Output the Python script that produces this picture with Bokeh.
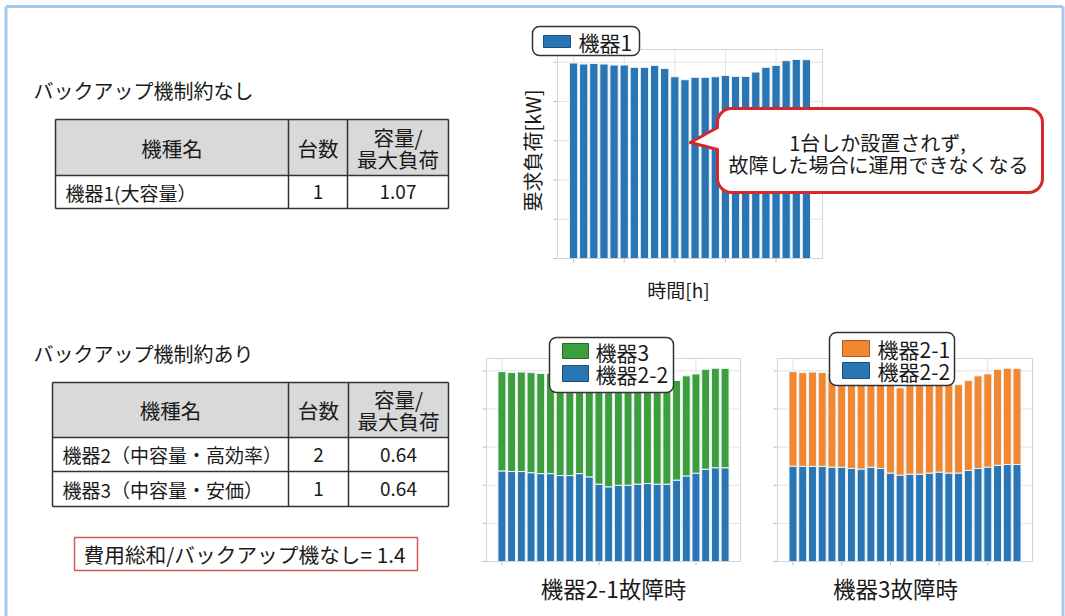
from math import pi
from bokeh.plotting import figure
from bokeh.models import Range1d
from bokeh.core.properties import value
from bokeh.embed import file_html
from bokeh.resources import INLINE

# ---------------- data ----------------
hours = list(range(24))
load_kw = [99.6, 99.1, 99.4, 99.1, 98.6, 98.6, 97.4, 97.4, 98.4, 96.8, 92.6, 91.1,
           92.3, 92.3, 92.6, 93.3, 92.8, 92.8, 95.0, 97.4, 98.4, 100.8, 101.4, 101.3]
unit22_when_21_fails = [47.5, 47.2, 47.2, 46.6, 46.1, 46.1, 45.1, 45.1, 46.1, 44.4, 40.6, 39.2,
                        40.0, 40.0, 40.6, 40.9, 40.6, 40.6, 42.7, 44.9, 46.3, 48.4, 49.2, 49.2]
unit22_when_3_fails = [50.0, 49.9, 49.9, 49.9, 49.5, 49.5, 48.8, 48.5, 49.5, 48.8, 46.4, 45.3,
                       45.8, 45.8, 46.4, 46.9, 46.4, 46.4, 47.8, 48.8, 49.5, 50.5, 50.9, 50.9]
y_ticks = [0, 20, 40, 60, 80, 100]
top_x_ticks = [0, 5, 10, 15, 20]
bl_x_ticks = [0, 10, 20]
br_x_ticks = [0, 5, 10, 15, 20]

table_header = ["機種名", "台数", "容量/", "最大負荷"]
table1_rows = [["機器1(大容量）", "1", "1.07"]]
table2_rows = [["機器2（中容量・高効率）", "2", "0.64"],
               ["機器3（中容量・安価）", "1", "0.64"]]
title_no_backup = "バックアップ機制約なし"
title_backup = "バックアップ機制約あり"
cost_text = "費用総和/バックアップ機なし= 1.4"
callout_lines = ["1台しか設置されず,", "故障した場合に運用できなくなる"]

BLUE = "#2a76b4"
GREEN = "#3d9e3d"
ORANGE = "#f2872f"
FONT = "Noto Sans CJK JP"
TXT = "#1a1a1a"

W, H = 1065, 616
p = figure(width=W, height=H, x_range=Range1d(0, W), y_range=Range1d(H, 0),
           output_backend="svg", toolbar_location=None, min_border=0,
           x_axis_location=None, y_axis_location=None)
p.grid.visible = False
p.outline_line_color = None
p.background_fill_color = "white"
p.border_fill_color = "white"


def txt(x, y, s, size="20px", align="left", angle=0.0, color=TXT):
    p.text(x=[x], y=[y], text=[s], text_font=value(FONT), text_font_size=value(size),
           text_align=align, text_baseline="middle", text_color=color, angle=angle)


# page border
p.segment(x0=[5.5, 5.5, 1062.5], y0=[6, 6, 6], x1=[5.5, 1062.5, 1062.5], y1=[616, 6, 616],
          line_color="#a6c8ec", line_width=3)

# ---------------- charts ----------------
X_LO, X_HI, Y_HI = -1.59, 24.59, 106.5


def chart(name, px0, px1, py_top, py_bot, xticks, stacks):
    sx = (X_HI - X_LO) / (px1 - px0)
    sy = Y_HI / (py_bot - py_top)
    p.extra_x_ranges[name + "x"] = Range1d(X_LO - px0 * sx, X_LO + (W - px0) * sx)
    p.extra_y_ranges[name + "y"] = Range1d(-(H - py_bot) * sy, Y_HI + py_top * sy)
    kw = dict(x_range_name=name + "x", y_range_name=name + "y")
    p.quad(left=[X_LO], right=[X_HI], bottom=[0], top=[Y_HI], fill_color="white",
           line_color=None, **kw)
    n = len(y_ticks)
    p.segment(x0=[X_LO] * n, x1=[X_HI] * n, y0=y_ticks, y1=y_ticks,
              line_color="#e3e3e3", line_width=1, **kw)
    m = len(xticks)
    p.segment(x0=xticks, x1=xticks, y0=[0] * m, y1=[Y_HI] * m,
              line_color="#e3e3e3", line_width=1, **kw)
    # tick marks
    p.segment(x0=xticks, x1=xticks, y0=[py_bot] * m, y1=[py_bot + 4] * m,
              line_color="#bbbbbb", x_range_name=name + "x")
    p.segment(x0=[px0 - 4] * n, x1=[px0] * n, y0=y_ticks, y1=y_ticks,
              line_color="#bbbbbb", y_range_name=name + "y")
    for bottom, top, color in stacks:
        p.vbar(x=hours, width=0.82, bottom=bottom, top=top, fill_color=color,
               line_color="#eef4fa", line_width=1, **kw)
    p.quad(left=[X_LO], right=[X_HI], bottom=[0], top=[Y_HI], fill_color=None,
           line_color="#d4d4d4", line_width=1, **kw)


chart("top", 557, 822, 49, 258, top_x_ticks, [(0, load_kw, BLUE)])
chart("bl", 486, 740, 358, 561, bl_x_ticks,
      [(0, unit22_when_21_fails, BLUE), (unit22_when_21_fails, load_kw, GREEN)])
chart("br", 777, 1032, 358, 561, br_x_ticks,
      [(0, unit22_when_3_fails, BLUE), (unit22_when_3_fails, load_kw, ORANGE)])

# axis labels / captions
txt(532, 150, "要求負荷[kW]", size="20px", align="center", angle=pi / 2)
txt(678, 289, "時間[h]", size="19px", align="center")
txt(613, 587, "機器2-1故障時", size="22.5px", align="center")
txt(895, 587, "機器3故障時", size="22.5px", align="center")


# legends
def legend_box(l, r, t, b):
    p.quad(left=[l], right=[r], top=[t], bottom=[b], fill_color="white",
           line_color="#333333", line_width=1.5, border_radius=7)


def swatch(l, r, t, b, color, edge):
    p.quad(left=[l], right=[r], top=[t], bottom=[b], fill_color=color,
           line_color=edge, line_width=1)


legend_box(532, 639, 26, 55)
swatch(543, 570, 35, 47, BLUE, "#1d4f7a")
txt(578, 41, "機器1", size="21px")

legend_box(549, 673, 337, 392)
swatch(562, 588, 343, 358, GREEN, "#276b27")
swatch(562, 588, 365, 381, BLUE, "#1d4f7a")
txt(595, 351, "機器3", size="21px")
txt(595, 373, "機器2-2", size="21px")

legend_box(829, 954, 332, 385)
swatch(842, 869, 340, 356, ORANGE, "#a85a18")
swatch(842, 869, 362, 378, BLUE, "#1d4f7a")
txt(877, 348, "機器2-1", size="21px")
txt(877, 370, "機器2-2", size="21px")

# callout bubble
RED = "#d9262b"
p.quad(left=[717], right=[1042], top=[108], bottom=[192], fill_color="white",
       line_color=RED, line_width=3, border_radius=14)
p.patch(x=[720, 690, 720], y=[127, 142, 149], fill_color="white", line_color=None)
p.segment(x0=[717, 717], y0=[127, 149], x1=[690, 690], y1=[142, 142],
          line_color=RED, line_width=3, line_cap="round")
txt(877, 142, callout_lines[0], size="20px", align="center")
txt(878, 164, callout_lines[1], size="20px", align="center")


# ---------------- tables ----------------
def table(cols, rows_y, data):
    left, right = cols[0], cols[-1]
    top, hb, bot = rows_y[0], rows_y[1], rows_y[-1]
    p.quad(left=[left], right=[right], top=[top], bottom=[hb], fill_color="#d9d9d9",
           line_color=None)
    hx = [left] * (len(rows_y))
    p.segment(x0=hx, x1=[right] * len(rows_y), y0=rows_y, y1=rows_y,
              line_color="#333333", line_width=1.5)
    p.segment(x0=cols, x1=cols, y0=[top] * len(cols), y1=[bot] * len(cols),
              line_color="#333333", line_width=1.5)
    hc = (top + hb) / 2
    txt((cols[0] + cols[1]) / 2, hc, table_header[0], size="20.5px", align="center")
    txt((cols[1] + cols[2]) / 2, hc, table_header[1], size="20.5px", align="center")
    txt((cols[2] + cols[3]) / 2, hc - 11, table_header[2], size="20.5px", align="center")
    txt((cols[2] + cols[3]) / 2, hc + 11, table_header[3], size="20.5px", align="center")
    for i, row in enumerate(data):
        cy = (rows_y[i + 1] + rows_y[i + 2]) / 2
        txt(cols[0] + 10, cy, row[0], size="19px")
        txt((cols[1] + cols[2]) / 2, cy, row[1], size="19px", align="center")
        txt((cols[2] + cols[3]) / 2, cy, row[2], size="19px", align="center")


txt(33, 90, title_no_backup, size="20px")
table([55, 288, 347, 448], [119, 175, 208], table1_rows)

txt(33, 353, title_backup, size="20px")
table([52, 288, 348, 448], [382, 437, 471, 506], table2_rows)

p.quad(left=[74], right=[417], top=[537], bottom=[570], fill_color="white",
       line_color="#d05a5a", line_width=1.5)
txt(83, 553.5, cost_text, size="20.7px")

open("out.html", "w").write(file_html(p, INLINE))
